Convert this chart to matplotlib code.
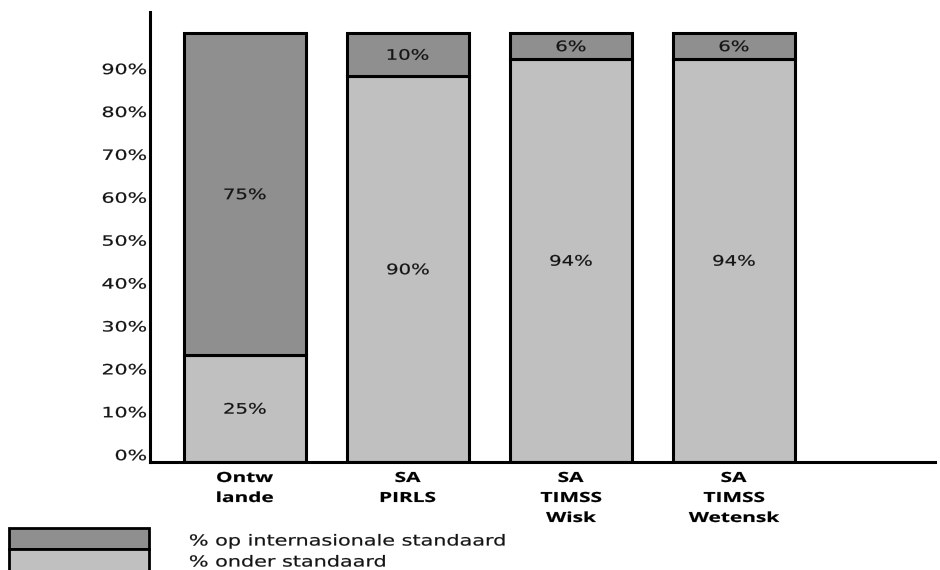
import matplotlib
matplotlib.use("Agg")
import matplotlib.pyplot as plt
import matplotlib.transforms as mtransforms
from matplotlib.patches import Rectangle, PathPatch
from matplotlib.textpath import TextPath
from matplotlib.font_manager import FontProperties

# Data
categories = ["Ontw\nlande", "SA\nPIRLS", "SA\nTIMSS\nWisk", "SA\nTIMSS\nWetensk"]
below_standard = [25, 90, 94, 94]      # % onder standaard
at_standard = [75, 10, 6, 6]           # % op internasionale standaard
tick_values = [0, 10, 20, 30, 40, 50, 60, 70, 80, 90]
tick_labels = [f"{v}%" for v in tick_values]
legend_labels = ["% op internasionale standaard", "% onder standaard"]

DARK = "#8f8f8f"
LIGHT = "#c0c0c0"
INK = "#141414"

W, H = 940, 570
DPI = 100
fig = plt.figure(figsize=(W / DPI, H / DPI), dpi=DPI)
ax = fig.add_axes([150 / W, 1 - 462 / H, (935 - 150) / W, (462 - 12) / H])


def wide_text(x, y, s, base, size, sx, ha="center", va="center",
              family="DejaVu Sans", weight="normal", color=INK, dx=0, dy=0):
    """Draw text as a path, widened horizontally by sx, anchored at (x, y) in `base`."""
    fp = FontProperties(family=family, weight=weight)
    path = TextPath((0, 0), s, size=size, prop=fp)
    ext = path.get_extents()
    ref = TextPath((0, 0), "H0", size=size, prop=fp).get_extents()
    ax0 = {"center": (ext.x0 + ext.x1) / 2, "right": ext.x1, "left": ext.x0}[ha]
    ay0 = {"center": (ref.y0 + ref.y1) / 2, "top": ref.y1, "baseline": 0.0}[va]
    k = DPI / 72
    tr = (mtransforms.Affine2D().translate(-ax0, -ay0).scale(sx * k, k).translate(dx, dy)
          + mtransforms.ScaledTranslation(x, y, base))
    fig.add_artist(PathPatch(path, transform=tr, facecolor=color, edgecolor=color,
                             lw=0.15, clip_on=False, zorder=5))


x = list(range(len(categories)))
bw = 0.75
ax.bar(x, below_standard, width=bw, color=LIGHT, edgecolor="black", linewidth=2.2, zorder=2)
ax.bar(x, at_standard, width=bw, bottom=below_standard, color=DARK,
       edgecolor="black", linewidth=2.2, zorder=2)

ax.set_xlim(-0.583, 4.233)
ax.set_ylim(0, 104.9)

# Value labels inside the bar segments
for xi, lo, hi in zip(x, below_standard, at_standard):
    wide_text(xi, lo / 2, f"{lo}%", ax.transData, 10.4, 1.36)
    wide_text(xi, lo + hi / 2, f"{hi}%", ax.transData, 10.4, 1.36)

# Y ticks (labels drawn as widened paths, sitting slightly above their value)
ax.set_yticks(tick_values)
ax.set_yticklabels([])
ax.tick_params(axis="y", length=0)
for v, lab in zip(tick_values, tick_labels):
    wide_text(0, v, lab, ax.get_yaxis_transform(), 10.2, 1.45, ha="right", dx=-4, dy=7)

# Category labels
ax.set_xticks(x)
ax.set_xticklabels([])
ax.tick_params(axis="x", length=0)
for xi, cat in zip(x, categories):
    for i, line in enumerate(cat.split("\n")):
        wide_text(xi, 0, line, ax.get_xaxis_transform(), 10.0, 1.5, ha="center",
                  va="center", family="Open Sans", weight="bold", dy=-(15 + 20 * i),
                  color="black")

for side in ["top", "right"]:
    ax.spines[side].set_visible(False)
for side in ["left", "bottom"]:
    ax.spines[side].set_linewidth(2.2)
    ax.spines[side].set_color("black")

# Legend swatches and labels, placed in pixel space
pix = mtransforms.IdentityTransform()
for (top, bot), col, label, ty in [((528, 549), DARK, legend_labels[0], 540),
                                    ((549, 572), LIGHT, legend_labels[1], 561)]:
    fig.add_artist(Rectangle((9 / W, 1 - bot / H), (149 - 9) / W, (bot - top) / H,
                             transform=fig.transFigure, facecolor=col,
                             edgecolor="black", linewidth=2.0, clip_on=False))
    wide_text(190, H - ty, label, pix, 10.9, 1.37, ha="left", va="center")

fig.savefig("out.png", dpi=DPI)
